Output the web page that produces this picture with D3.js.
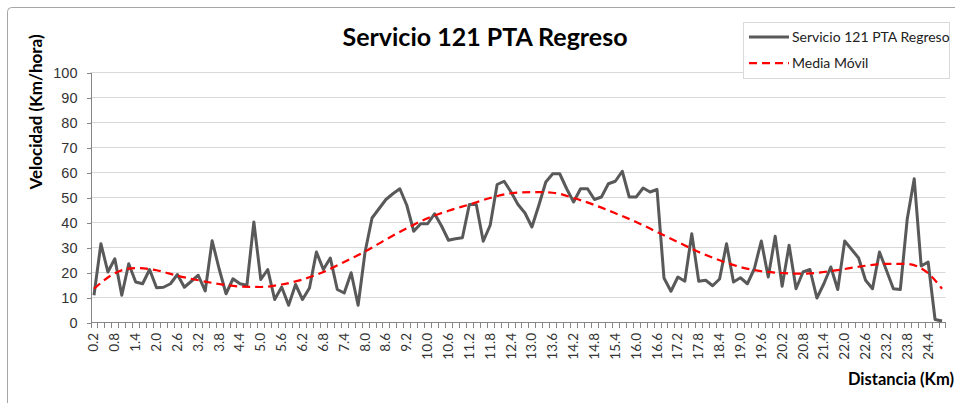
<!DOCTYPE html>
<html>
<head>
<meta charset="utf-8">
<script src="https://cdn.jsdelivr.net/npm/d3@7"></script>
<style type="text/css">
    body{
        margin:0;
        background:#fff;
        font-family:Lato, "Open Sans", sans-serif;
    }
    .grid line{
        stroke:#d9d9d9;
        stroke-width:1px;
    }
    .axis path, .axis line{
        stroke:#868686;
        shape-rendering:crispEdges;
    }
    .axis text{
        fill:#333;
    }
</style>
</head>
<body>
<div id="container"></div>
<script type="text/javascript">

    // categorias del eje X (km); el registro salta de 9.2 a 10.0 con solo dos puntos intermedios
    var distancias = d3.range(1, 47).map(function(i){ return (i * 0.2).toFixed(1); })
        .concat(["9.4", "9.8"])
        .concat(d3.range(50, 125).map(function(i){ return (i * 0.2).toFixed(1); }));

    // velocidad registrada en cada categoria
    var velocidad = [
        10.7, 31.3, 20, 25.3, 10.7, 23.3, 16, 15.3, 21, 13.7,
        13.9, 15.3, 19, 13.9, 16.3, 18.7, 12.4, 32.5, 21.3, 11.3,
        17.3, 15.3, 14.7, 40, 17, 21, 9, 14, 6.7, 15,
        9, 13.6, 28, 21, 25.6, 13, 11.6, 19.7, 6.7, 28,
        41.6, 45.3, 49, 51.3, 53.3, 46.7, 36.3, 39.3, 39.3, 43.3,
        38.4, 32.7, 33.3, 33.7, 47, 47, 32.3, 38.7, 55, 56.3,
        52, 47, 43.6, 38, 46.7, 56, 59.3, 59.3, 53.3, 48,
        53.3, 53.3, 49, 50, 55.3, 56.3, 60.3, 50, 50, 53.6,
        52, 53, 17.6, 12.3, 18, 16.3, 35.3, 16.3, 16.7, 14.5,
        17.2, 31.3, 16, 17.7, 15.3, 21.3, 32.4, 18, 34.3, 14.3,
        30.7, 13.3, 20, 21, 9.6, 15.3, 22, 13, 32.4, 29,
        25.6, 16.7, 13.3, 28, 20.7, 13.3, 13, 41.3, 57.3, 22.4,
        24, 1, 0.4
    ];

    var mediaKm = ["0.2","0.8","1.4","2.0","2.6","3.2","3.8","4.4","5.0","5.6",
        "6.2","6.8","7.4","8.0","8.6","9.2","10.0","10.6","11.2","11.8",
        "12.4","13.0","13.6","14.2","14.8","15.4","16.0","16.6","17.2","17.8",
        "18.4","19.0","19.6","20.2","20.8","21.4","22.0","22.6","23.2","23.8",
        "24.4","24.8"];
    var mediaMovil = [13.3, 19.5, 21.6, 20.7, 18.5, 16.7, 15.2, 14.2, 14, 15,
        17, 20, 24, 28.2, 33, 37.5, 41.5, 44.5, 47, 49.6,
        51.5, 52, 51.7, 49.6, 46.8, 43.5, 40, 36, 32, 28,
        24.7, 22, 20.3, 19.6, 19.3, 20, 21.2, 22.5, 23.3, 23.2,
        19.5, 13.3];

    var yTicks = [0, 10, 20, 30, 40, 50, 60, 70, 80, 90, 100];

    var W = 955, H = 403;
    var svg = d3.select("#container").append("svg")
        .attr("width", W).attr("height", H);

    // marco del grafico
    svg.append("rect")
        .attr("x", 7.5).attr("y", 7.5)
        .attr("width", 1000).attr("height", 500)
        .attr("rx", 4)
        .attr("fill", "none")
        .attr("stroke", "#a6a6a6");

    var x = d3.scaleBand().domain(distancias).range([90.5, 945.5]).padding(0);
    var y = d3.scaleLinear().domain([0, 100]).range([322, 72]);
    var cx = function(d){ return x(d) + x.bandwidth() / 2; };

    // rejilla
    svg.append("g").attr("class", "grid")
        .selectAll("line").data(yTicks.slice(1)).enter().append("line")
        .attr("x1", 90.5).attr("x2", 945.5)
        .attr("y1", function(d){ return Math.round(y(d)) + 0.5; })
        .attr("y2", function(d){ return Math.round(y(d)) + 0.5; });

    // eje Y
    var yAxis = svg.append("g").attr("class", "axis")
        .attr("transform", "translate(90.5,0.5)")
        .call(d3.axisLeft(y).tickValues(yTicks).tickSize(4).tickPadding(9).tickSizeOuter(0));
    yAxis.selectAll("text").style("font-size", "14.5px");

    // eje X: marcas entre categorias, rotulo cada 3
    var xg = svg.append("g").attr("class", "axis");
    xg.append("line")
        .attr("x1", 90.5).attr("x2", 945.5)
        .attr("y1", 322.5).attr("y2", 322.5);
    xg.selectAll(".tk").data(distancias.concat(["fin"])).enter().append("line")
        .attr("class", "tk")
        .attr("x1", function(d){ return Math.round(d == "fin" ? 945 : x(d)) + 0.5; })
        .attr("x2", function(d){ return Math.round(d == "fin" ? 945 : x(d)) + 0.5; })
        .attr("y1", 322.5).attr("y2", 327.5);

    xg.selectAll(".lbl").data(distancias.filter(function(d, i){ return i % 3 == 0; }))
        .enter().append("text")
        .attr("class", "lbl")
        .attr("transform", function(d){ return "translate(" + (cx(d) + 4.5) + ",333) rotate(-90)"; })
        .attr("text-anchor", "end")
        .style("font-size", "13.5px")
        .text(function(d){ return d; });

    // series
    var linea = d3.line()
        .x(function(d){ return cx(d.k); })
        .y(function(d){ return y(d.v); });

    var datosVel = distancias.map(function(k, i){ return {k:k, v:velocidad[i]}; });
    var datosMedia = mediaKm.map(function(k, i){ return {k:k, v:mediaMovil[i]}; });

    svg.append("path")
        .datum(datosVel)
        .attr("d", linea)
        .attr("fill", "none")
        .attr("stroke", "#595959")
        .attr("stroke-width", 3)
        .attr("stroke-linejoin", "round");

    svg.append("path")
        .datum(datosMedia)
        .attr("d", linea.curve(d3.curveMonotoneX))
        .attr("fill", "none")
        .attr("stroke", "#ff0000")
        .attr("stroke-width", 2.25)
        .attr("stroke-dasharray", "8,5");

    // titulos
    svg.append("text")
        .attr("x", 485).attr("y", 46)
        .attr("text-anchor", "middle")
        .style("font-size", "25px").style("font-weight", "bold")
        .text("Servicio 121 PTA Regreso");

    svg.append("text")
        .attr("transform", "translate(42,112) rotate(-90)")
        .attr("text-anchor", "middle")
        .style("font-size", "17px").style("font-weight", "bold")
        .text("Velocidad (Km/hora)");

    svg.append("text")
        .attr("x", 954).attr("y", 385)
        .attr("text-anchor", "end")
        .style("font-size", "16.5px").style("font-weight", "bold")
        .text("Distancia (Km)");

    // leyenda
    var leg = svg.append("g");
    leg.append("rect")
        .attr("x", 743.5).attr("y", 22.5)
        .attr("width", 206).attr("height", 56)
        .attr("fill", "#fff").attr("stroke", "#d9d9d9");
    leg.append("line")
        .attr("x1", 749).attr("x2", 789).attr("y1", 37).attr("y2", 37)
        .attr("stroke", "#595959").attr("stroke-width", 3);
    leg.append("line")
        .attr("x1", 749).attr("x2", 789).attr("y1", 63).attr("y2", 63)
        .attr("stroke", "#ff0000").attr("stroke-width", 2.25)
        .attr("stroke-dasharray", "8,5");
    leg.append("text")
        .attr("x", 792).attr("y", 42)
        .style("font-size", "14px").attr("fill", "#222")
        .text("Servicio 121 PTA Regreso");
    leg.append("text")
        .attr("x", 792).attr("y", 68)
        .style("font-size", "14px").attr("fill", "#222")
        .text("Media Móvil");

</script>
</body>
</html>
